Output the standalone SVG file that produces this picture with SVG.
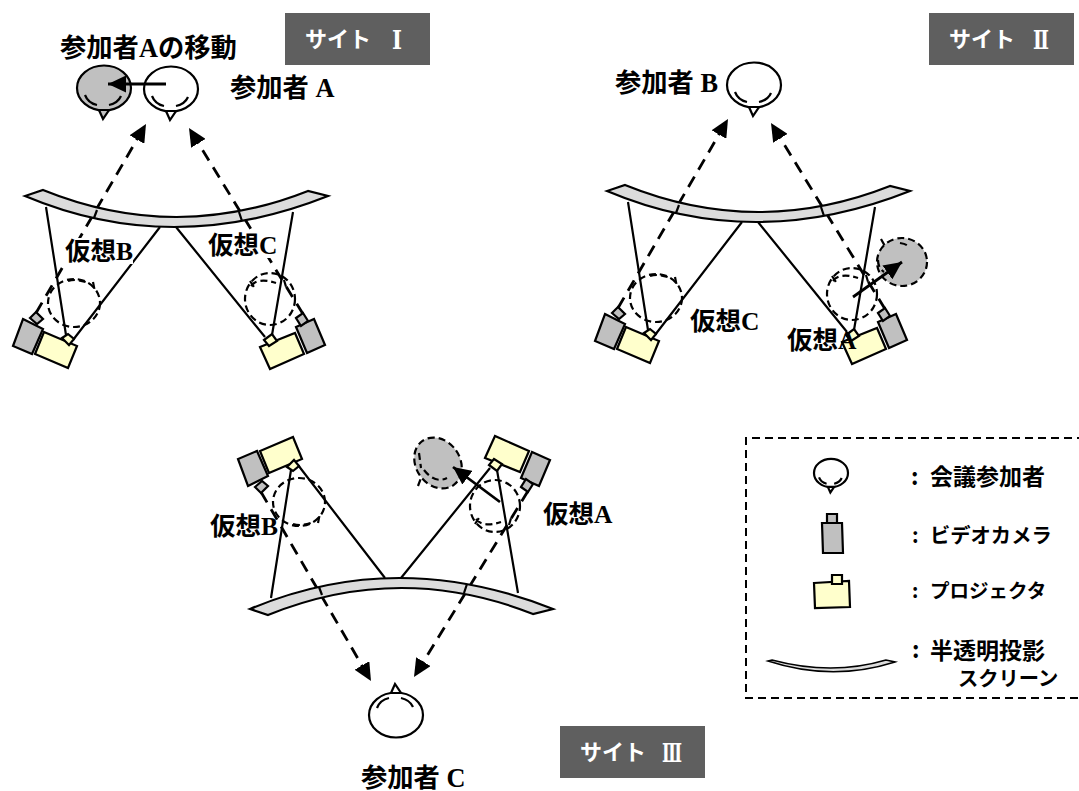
<svg xmlns="http://www.w3.org/2000/svg" width="1079" height="791" viewBox="0 0 1079 791">
<style>
text{font-family:"Liberation Serif","Noto Sans CJK JP",serif;font-weight:700;fill:#000}
.lb{font-size:25.5px}
.lp{font-size:26.3px}
.ban{font-family:"Noto Sans CJK JP",sans-serif;font-size:22px;fill:#fff}
.rom{font-family:"DejaVu Serif",serif;font-size:26px;fill:#fff}
.lk{font-family:"Noto Sans CJK JP",sans-serif;font-size:23px}
.lg{font-family:"Noto Sans CJK JP",sans-serif;font-size:20.3px}
.lp2{font-family:"Noto Sans CJK JP",sans-serif;font-size:19.5px}
.o{stroke:#000;stroke-width:2.2;stroke-linejoin:miter;vector-effect:non-scaling-stroke}
.arc{fill:none;stroke:#000;stroke-width:2.2;vector-effect:non-scaling-stroke}
.beam{stroke:#000;stroke-width:2.2;fill:none}
.dash{stroke:#000;stroke-width:2.8;stroke-dasharray:12 8;fill:none;marker-end:url(#ah)}
.move{stroke:#000;stroke-width:2.8;fill:none;marker-end:url(#ah)}
.ghost{stroke:#000;stroke-width:2.2;stroke-dasharray:7 4;fill:none}
.proj{fill:#ffffcc}
.cam{fill:#c0c0c0}
</style>
<defs>
<marker id="ah" markerUnits="userSpaceOnUse" viewBox="0 0 18 17" markerWidth="18" markerHeight="17" refX="18" refY="8.5" orient="auto"><path d="M0 0L18 8.5L0 17z" fill="#000"/></marker>
<g id="head">
<ellipse class="o" rx="27" ry="22.5"/>
<path class="o" d="M-5 22L5 22L-1 31z"/>
<path class="arc" d="M-19 7Q-16 15-7 17M5 17Q14 15 17 8"/>
</g>
<g id="screen">
<path class="o" fill="#dcdcdc" d="M43 190Q175 243.5 308 191L328 196Q172 258 25 196z"/>
<path d="M97 210L94 218M239 212L242 221" stroke="#000" stroke-width="2.2"/>
</g>
<g id="rigL">
<g class="ghost"><ellipse cx="74" cy="303" rx="26" ry="24"/><path d="M68 281Q78 278 90 284M93 282L95 292"/></g>
<path class="o cam" d="M23 319L43 329L32 354L13 346z"/>
<path class="o cam" d="M30 318L36 312L43 319L37 324z"/>
<path class="o proj" d="M44 332L77 346L68 368L35 354z"/>
<path class="o proj" d="M62 338L68 334L74 339L69 345z"/>
</g>
<g id="rigR">
<g class="ghost"><ellipse cx="270" cy="299" rx="25" ry="26"/><path d="M251 286Q258 277 276 283M250 281L254 287M284 280L287 290"/></g>
<path class="o cam" d="M296 327L314 319L325 345L307 353z"/>
<path class="o cam" d="M296 318L303 313L308 321L301 326z"/>
<path class="o proj" d="M260 347L295 333L304 354L270 369z"/>
<path class="o proj" d="M264 340L272 334L277 341L269 346z"/>
</g>
</defs>
<rect width="1079" height="791" fill="#fff"/>

<g id="head-a-moved"><use href="#head" transform="translate(104,88)" fill="#c0c0c0"/></g>
<g id="head-a"><use href="#head" transform="translate(171,89)" fill="#fff"/></g>
<g id="head-b"><use href="#head" transform="translate(754,85)" fill="#fff"/></g>
<g id="head-c"><use href="#head" transform="translate(396,715) scale(1,-1)" fill="#fff"/></g>
<g id="ghost-a-site2">
<ellipse cx="902" cy="262" rx="25" ry="24" fill="#c0c0c0" stroke="#000" stroke-width="2.2" stroke-dasharray="7 4"/>
<path class="ghost" d="M881 239L886 248M900 243Q906 244 908 246M878 260Q878 268 884 272"/>
</g>
<g id="ghost-a-site3">
<ellipse cx="438" cy="463" rx="22" ry="27" transform="rotate(-35 438 463)" fill="#c0c0c0" stroke="#000" stroke-width="2.2" stroke-dasharray="7 4"/>
<path class="ghost" d="M419 453L421 468M424 470Q435 484 447 478M418 486L421 478"/>
</g>

<g id="connectors">
<path class="dash" d="M36 313L146 124"/>
<path class="dash" d="M303 314L189 128"/>
<path class="beam" d="M46 207L66 335M160 227L73 340M176 227L265 337M293 212L272 335"/>
<path class="dash" d="M618 308L728 119"/>
<path class="dash" d="M885 309L771 123"/>
<path class="beam" d="M628 202L648 330M742 222L655 335M758 222L847 332M875 207L854 330"/>
<path class="dash" d="M261 492L371 681"/>
<path class="dash" d="M528 491L414 677"/>
<path class="beam" d="M271 598L291 470M385 578L298 465M401 578L490 468M518 593L497 470"/>
<path class="move" d="M166 84L108 84"/>
<path class="move" d="M853 297L902 262"/>
<path class="move" d="M500 502L453 467"/>
</g>

<g id="screen-site1"><use href="#screen"/></g>
<g id="rig-site1-left"><use href="#rigL"/></g>
<g id="rig-site1-right"><use href="#rigR"/></g>
<g id="screen-site2"><use href="#screen" transform="translate(582,-5)"/></g>
<g id="rig-site2-left"><use href="#rigL" transform="translate(582,-5)"/></g>
<g id="rig-site2-right"><use href="#rigR" transform="translate(582,-5)"/></g>
<g id="screen-site3"><use href="#screen" transform="translate(225,805) scale(1,-1)"/></g>
<g id="rig-site3-left"><use href="#rigL" transform="translate(225,805) scale(1,-1)"/></g>
<g id="rig-site3-right"><use href="#rigR" transform="translate(225,805) scale(1,-1)"/></g>

<g id="label-site1">
<rect x="285" y="13" width="145" height="52" fill="#5f5f5f"/>
<text class="ban" x="305" y="47">サイト</text><text class="rom" x="392" y="49" textLength="10" lengthAdjust="spacingAndGlyphs">Ⅰ</text>
</g>
<g id="label-site2">
<rect x="929" y="13" width="145" height="52" fill="#5f5f5f"/>
<text class="ban" x="949" y="47">サイト</text><text class="rom" x="1033" y="49" textLength="16" lengthAdjust="spacingAndGlyphs">Ⅱ</text>
</g>
<g id="label-site3">
<rect x="560" y="726" width="145" height="52" fill="#5f5f5f"/>
<text class="ban" x="580" y="760">サイト</text><text class="rom" x="662" y="762" textLength="20" lengthAdjust="spacingAndGlyphs">Ⅲ</text>
</g>

<g id="texts">
<text class="lp" x="60" y="57">参加者Aの移動</text>
<text class="lp" x="230" y="97">参加者 A</text>
<text class="lp" x="615" y="92">参加者 B</text>
<text class="lp" x="361" y="787">参加者 C</text>
<rect x="65" y="238" width="68" height="26" fill="#fff"/>
<text class="lb" x="65" y="260">仮想B</text>
<rect x="208" y="232" width="68" height="26" fill="#fff"/>
<text class="lb" x="208" y="254">仮想C</text>
<text class="lb" x="690" y="330">仮想C</text>
<text class="lb" x="787" y="349">仮想A</text>
<text class="lb" x="210" y="535">仮想B</text>
<text class="lb" x="543" y="523">仮想A</text>
</g>

<g id="legend">
<path d="M1085 438L746 438L746 698L1085 698" fill="none" stroke="#000" stroke-width="2" stroke-dasharray="8 5"/>
<g id="legend-participant"><use href="#head" transform="translate(831,473) scale(.63)" fill="#fff"/>
<text class="lk" x="911" y="485">:</text><text class="lk" x="930" y="485">会議参加者</text></g>
<g id="legend-camera"><path class="o cam" d="M822 523L842 523L843 553L823 553z"/><rect class="o cam" x="827" y="514" width="10" height="9"/>
<text class="lg" x="912" y="543">:</text><text class="lg" x="930" y="543">ビデオカメラ</text></g>
<g id="legend-projector"><path class="o proj" d="M814 583L849 581L850 607L815 608z"/><rect class="o proj" x="832" y="575" width="10" height="9"/>
<text class="lp2" x="912" y="598">:</text><text class="lp2" x="930" y="598">プロジェクタ</text></g>
<g id="legend-screen"><path fill="#dcdcdc" stroke="#000" stroke-width="1.6" d="M768 661L772 660Q832 676 886 660L895 662Q832 682 768 661z"/>
<text class="lk" x="912" y="658">:</text><text class="lk" x="930" y="659">半透明投影</text>
<text class="lg" x="958" y="686">スクリーン</text></g>
</g>
</svg>
